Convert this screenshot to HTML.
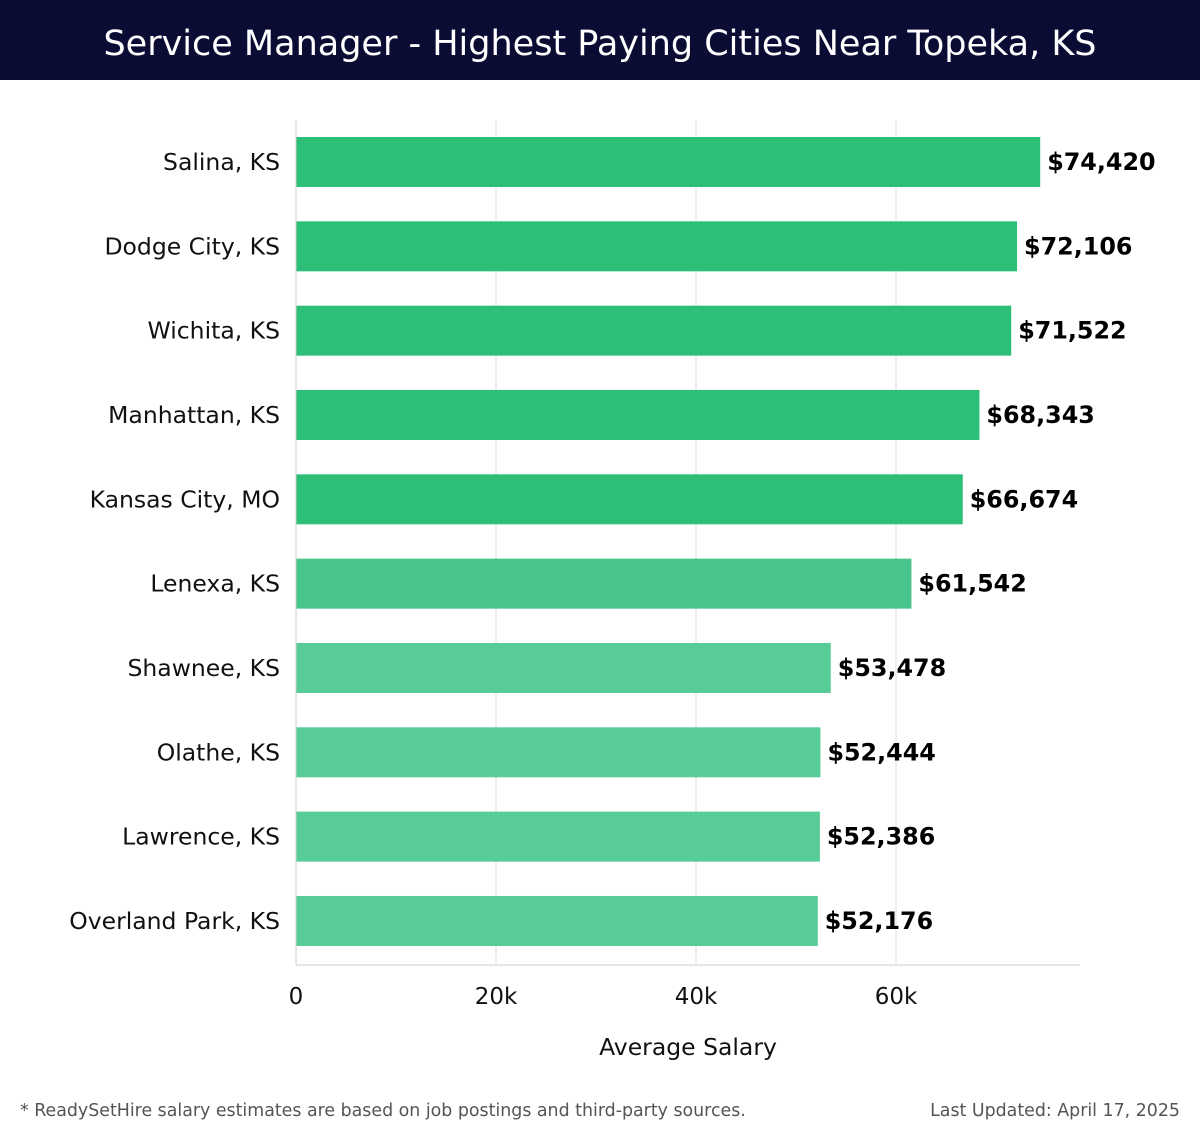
<!DOCTYPE html>
<html><head><meta charset="utf-8"><style>
body{margin:0;width:1200px;height:1140px;background:#fff;font-family:"DejaVu Sans","Liberation Sans",sans-serif;overflow:hidden}
#hdr{position:absolute;left:0;top:0;width:1200px;height:80px;background:#0b0c33;color:#fff;font-size:35px;text-align:center;line-height:88px;font-family:"DejaVu Sans","Liberation Sans",sans-serif}
.foot{position:absolute;top:1101px;font-size:17.4px;color:#555;font-family:"DejaVu Sans","Liberation Sans",sans-serif}
</style></head><body>
<div id="hdr">Service Manager - Highest Paying Cities Near Topeka, KS</div>
<svg id="chart" width="1200" height="1140" style="position:absolute;left:0;top:0"></svg>
<div class="foot" style="left:20px">* ReadySetHire salary estimates are based on job postings and third-party sources.</div>
<div class="foot" style="right:20px">Last Updated: April 17, 2025</div>
<script>
const cities=["Salina, KS","Dodge City, KS","Wichita, KS","Manhattan, KS","Kansas City, MO","Lenexa, KS","Shawnee, KS","Olathe, KS","Lawrence, KS","Overland Park, KS"];
const salaries=[74420,72106,71522,68343,66674,61542,53478,52444,52386,52176];
const ticks=[0,20000,40000,60000];
const tickLabels=["0","20k","40k","60k"];
const NS="http://www.w3.org/2000/svg";
const svg=document.getElementById('chart');
const x0=296,pxPerUnit=0.01,yTop=120,yBot=965,step=84.33,barH=50;
const xs=v=>x0+v*pxPerUnit;
const yc=i=>162+i*step;
function mk(t,a,p){const e=document.createElementNS(NS,t);for(const k in a)e.setAttribute(k,a[k]);(p||svg).appendChild(e);return e;}
ticks.forEach((t,i)=>{
  const g=mk('line',{x1:xs(t),x2:xs(t),y1:yTop,y2:yBot,stroke:'#dddddd','stroke-width':1});
  
  
  const l=mk('text',{x:xs(t),y:1004,'text-anchor':'middle','font-size':23,fill:'#111'});
  l.textContent=tickLabels[i];
  
  
});
const ax=mk('line',{x1:x0,x2:1080,y1:yBot,y2:yBot,stroke:'#cccccc'});


const at=mk('text',{x:688,y:1055,'text-anchor':'middle','font-size':23.5,fill:'#111'});
at.textContent='Average Salary';


salaries.forEach((v,i)=>{
  const col=v>=65000?'#2dbf78':(v>=60000?'#47c58a':'#57cc96');
  const r=mk('rect',{x:x0,y:yc(i)-barH/2,width:xs(v)-x0,height:barH,fill:col});
  
  
  const c=mk('text',{x:280,y:yc(i)+8,'text-anchor':'end','font-size':23.5,fill:'#111'});
  c.textContent=cities[i];
  
  
  const t=mk('text',{x:xs(v)+7,y:yc(i)+8,'font-size':23.8,'font-weight':'bold',fill:'#000'});
  t.textContent='$'+v.toLocaleString('en-US');
  
  
});
const yl=mk('line',{x1:x0,x2:x0,y1:yTop,y2:yBot,stroke:'#cccccc'});


</script>
</body></html>
